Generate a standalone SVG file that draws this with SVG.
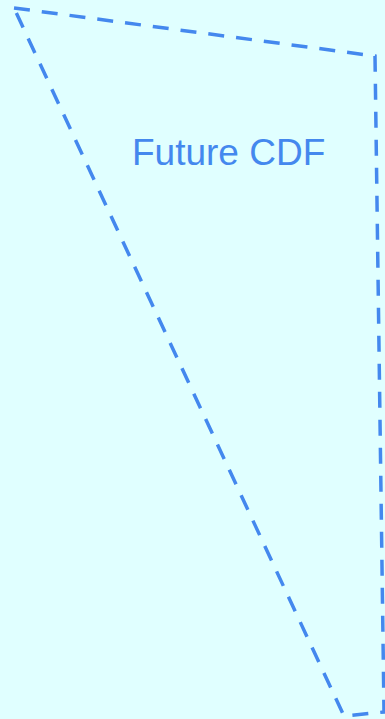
<svg xmlns="http://www.w3.org/2000/svg" width="385" height="719" viewBox="0 0 385 719">
<style>
.bg{fill:#e0ffff}
.region{fill:none;stroke:#4488ee;stroke-width:3.5;stroke-dasharray:16 12}
.lbl{font-family:"Liberation Sans",Arial,sans-serif;font-size:37px;fill:#4488ee}
</style>
<rect class="bg" x="0" y="0" width="385" height="719"/>
<g id="future-cdf">
<polygon class="region" points="14,8 375,56 384,712 344,716"/>
<text class="lbl" x="132" y="165">Future CDF</text>
</g>
<g id="connectors"/>
</svg>
